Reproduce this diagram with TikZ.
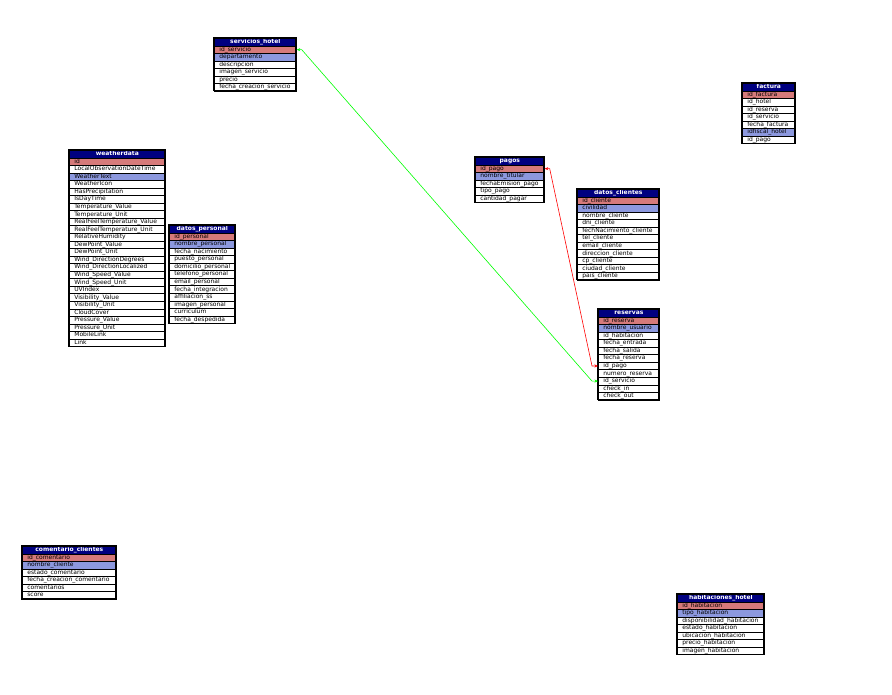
\documentclass[tikz,border=0pt]{standalone}
\usepackage{fontspec}
\setmainfont{DejaVu Sans}
\usetikzlibrary{arrows.meta}

\definecolor{cabazul}{RGB}{0,0,128}
\definecolor{clave}{RGB}{214,122,122}
\definecolor{indice}{RGB}{140,152,222}

\tikzset{
	campo/.style={draw=black, line width=0.7pt, anchor=north west, inner xsep=3pt, inner ysep=0pt,
		minimum height=7.55pt, text height=4.4pt, text depth=1.3pt, font=\fontsize{6}{6}\selectfont},
	cabecera/.style={campo, fill=cabazul, text=white, font=\fontsize{6}{6}\selectfont\bfseries},
	pk/.style={fill=clave},
	ix/.style={fill=indice},
	nm/.style={fill=white},
	borde/.style={draw=black, line width=1.3pt},
	rel/.style={line width=0.6pt, {Stealth[length=3.5pt,width=3pt]}-{Stealth[length=3.5pt,width=3pt]}}
}

% tabla: nombre, x, y, ancho, titulo, filas, campos
\newcommand{\dbtabla}[7]{%
	\pgfmathsetmacro{\tw}{#4-6}
	\node[cabecera] (#1-0) at (#2,#3) {\makebox[\tw pt][c]{#5}};
	\foreach \tipo/\campo [count=\n] in {#7} {
		\node[campo, \tipo] (#1-\n) at (#2,#3+\n*7.55) {\makebox[\tw pt][l]{\hspace{2pt}\campo}};
	}
	\draw[borde] (#2,#3) rectangle ++(#4,{(#6+1)*7.55});
}

\begin{document}
\begin{tikzpicture}[x=1pt, y=-1pt]
	\useasboundingbox (0,0) rectangle (892,695);

	\dbtabla{servicios}{214}{38}{82}{servicios\_hotel}{6}{pk/id\_servicio, ix/departamento, nm/descripcion,
		nm/imagen\_servicio, nm/precio, nm/fecha\_creacion\_servicio}
	\dbtabla{factura}{742}{83}{53}{factura}{7}{pk/id\_factura, nm/id\_hotel, nm/id\_reserva, nm/id\_servicio,
		nm/fecha\_factura, ix/idfiscal\_hotel, nm/id\_pago}
	\dbtabla{weather}{69}{150}{96}{weatherdata}{25}{pk/id, nm/LocalObservationDateTime, ix/WeatherText,
		nm/WeatherIcon, nm/HasPrecipitation, nm/IsDayTime, nm/Temperature\_Value, nm/Temperature\_Unit,
		nm/RealFeelTemperature\_Value, nm/RealFeelTemperature\_Unit, nm/RelativeHumidity, nm/DewPoint\_Value,
		nm/DewPoint\_Unit, nm/Wind\_DirectionDegrees, nm/Wind\_DirectionLocalized, nm/Wind\_Speed\_Value,
		nm/Wind\_Speed\_Unit, nm/UVIndex, nm/Visibility\_Value, nm/Visibility\_Unit, nm/CloudCover,
		nm/Pressure\_Value, nm/Pressure\_Unit, nm/MobileLink, nm/Link}
	\dbtabla{personal}{169}{225}{66}{datos\_personal}{12}{pk/id\_personal, ix/nombre\_personal,
		nm/fecha\_nacimiento, nm/puesto\_personal, nm/domicilio\_personal, nm/telefono\_personal,
		nm/email\_personal, nm/fecha\_integracion, nm/affiliacion\_ss, nm/imagen\_personal,
		nm/curriculum, nm/fecha\_despedida}
	\dbtabla{pagos}{475}{157}{69}{pagos}{5}{pk/id\_pago, ix/nombre\_titular, nm/fechaEmision\_pago,
		nm/tipo\_pago, nm/cantidad\_pagar}
	\dbtabla{clientes}{577}{189}{82}{datos\_clientes}{11}{pk/id\_cliente, ix/civilidad, nm/nombre\_cliente,
		nm/dni\_cliente, nm/fechNacimiento\_cliente, nm/tel\_cliente, nm/email\_cliente,
		nm/direccion\_cliente, nm/cp\_cliente, nm/ciudad\_cliente, nm/pais\_cliente}
	\dbtabla{reservas}{598}{309}{61}{reservas}{11}{pk/id\_reserva, ix/nombre\_usuario, nm/id\_habitacion,
		nm/fecha\_entrada, nm/fecha\_salida, nm/fecha\_reserva, nm/id\_pago, nm/numero\_reserva,
		nm/id\_servicio, nm/check\_in, nm/check\_out}
	\dbtabla{comentario}{22}{546}{94}{comentario\_clientes}{6}{pk/id\_comentario, ix/nombre\_cliente,
		nm/estado\_comentario, nm/fecha\_creacion\_comentario, nm/comentarios, nm/score}
	\dbtabla{habitaciones}{677}{594}{87}{habitaciones\_hotel}{7}{pk/id\_habitacion, ix/tipo\_habitacion,
		nm/disponibilidad\_habitacion, nm/estado\_habitacion, nm/ubicacion\_habitacion,
		nm/precio\_habitacion, nm/imagen\_habitacion}

	% relaciones
	\draw[rel, red] (pagos-1.east) -- ++(5,0) -- ([xshift=-6pt]reservas-7.west) -- (reservas-7.west);
	\draw[rel, green] (servicios-1.east) -- ++(5,0) -- ([xshift=-6pt]reservas-9.west) -- (reservas-9.west);
\end{tikzpicture}
\end{document}
